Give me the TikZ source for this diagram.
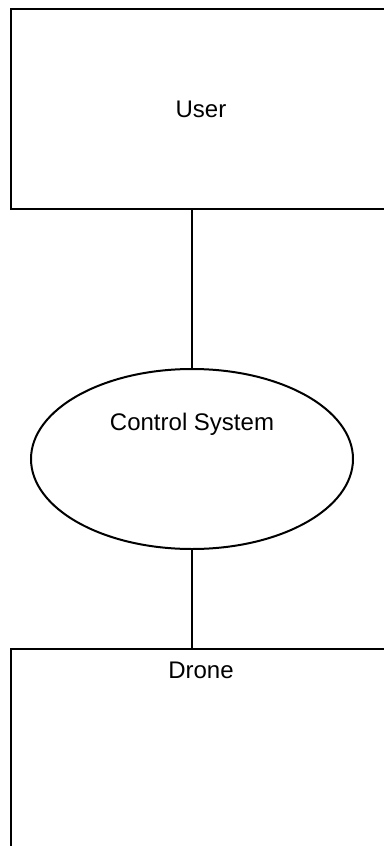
\documentclass[tikz,border=0pt]{standalone}
\usepackage{fontspec}
\setmainfont{Liberation Sans}
\usetikzlibrary{shapes.geometric}
\tikzstyle{block}=[draw,rectangle,line width=1pt,minimum width=190pt,minimum height=100pt,inner sep=0pt,font=\fontsize{12}{14}\selectfont]
\tikzstyle{process}=[draw,ellipse,line width=1pt,minimum width=161pt,minimum height=90pt,inner sep=0pt]
\tikzstyle{edge} = [draw,line width=1pt,-]
\begin{document}
\begin{tikzpicture}[x=0.5pt,y=-0.5pt]
                    \useasboundingbox (0,0) rectangle (384,846);
                    \clip (0,0) rectangle (384,846);
                    \node[block] (user) at (201,109) {User};
                    \node[process,label={[font=\fontsize{12}{14}\selectfont,yshift=17.5pt]center:Control System}] (ctrl) at (192,459) {};
                    \node[block,label={[font=\fontsize{12}{14}\selectfont,anchor=north,inner sep=0pt,yshift=-7pt]north:Drone}] (drone) at (201,749) {};

                    \path[edge] (ctrl.north |- user.south) -- (ctrl.north);
                    \path[edge] (ctrl.south) -- (ctrl.south |- drone.north);
                \end{tikzpicture}
\end{document}
